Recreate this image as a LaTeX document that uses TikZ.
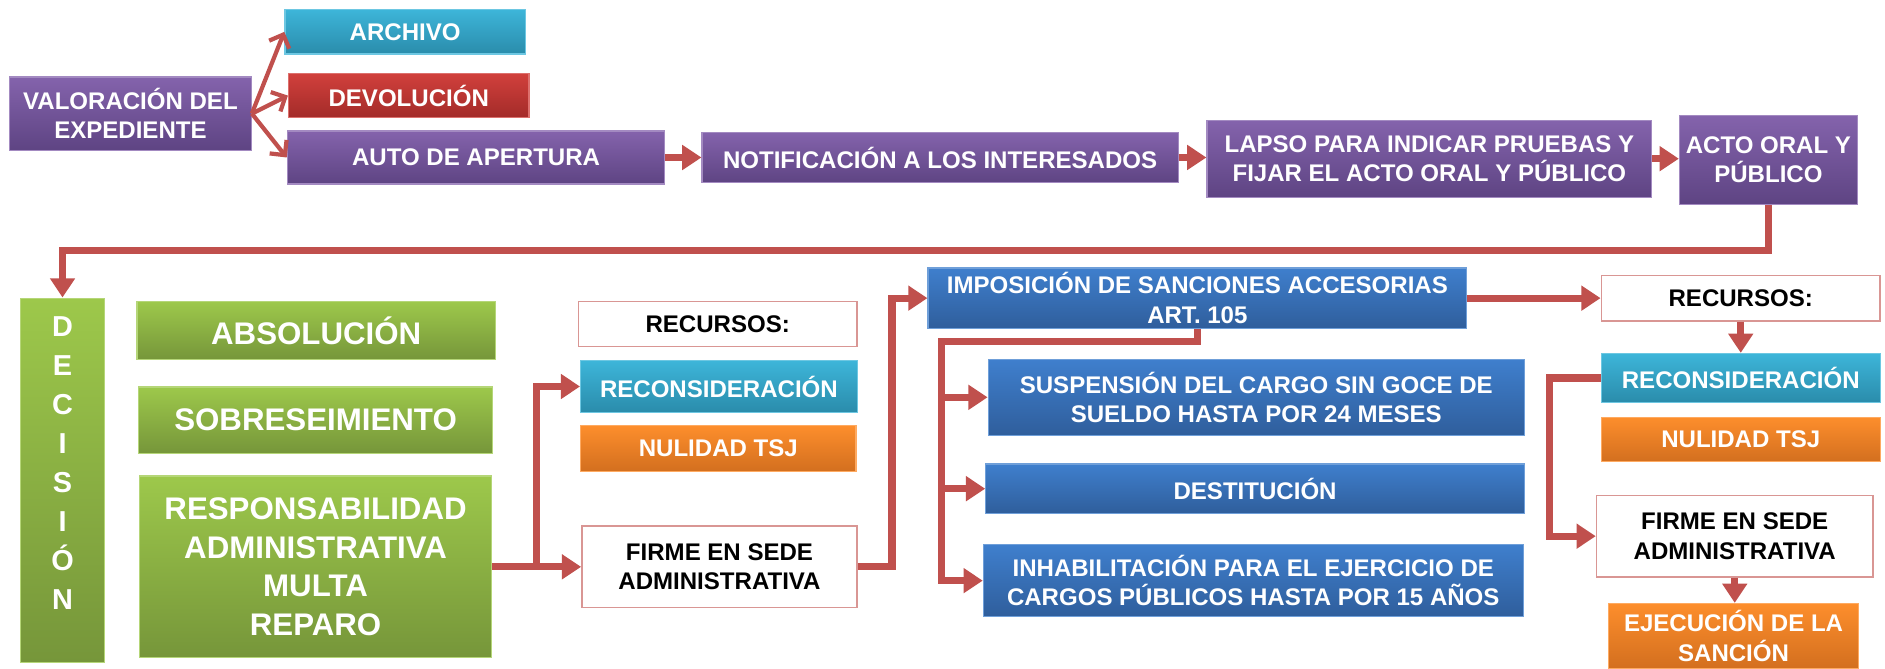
\documentclass[tikz,border=0pt]{standalone}
\usepackage{fontspec}
\setmainfont{Liberation Sans}
\usetikzlibrary{positioning,arrows.meta}
\definecolor{arrowred}{HTML}{C0504D}
\definecolor{violetTop}{HTML}{8463AC}
\definecolor{violetBot}{HTML}{5E4483}
\definecolor{tealTop}{HTML}{3DB5D9}
\definecolor{tealBot}{HTML}{2A8CAB}
\definecolor{redTop}{HTML}{D1403C}
\definecolor{redBot}{HTML}{A32B29}
\definecolor{greenTop}{HTML}{9DC84B}
\definecolor{greenBot}{HTML}{76963A}
\definecolor{blueTop}{HTML}{3F7FCD}
\definecolor{blueBot}{HTML}{2F5E9C}
\definecolor{orangeTop}{HTML}{FD8E2C}
\definecolor{orangeBot}{HTML}{D36F1F}
\definecolor{pinkline}{HTML}{D99694}

\begin{document}
\begin{tikzpicture}[x=1pt, y=1pt,
    main/.style = {inner sep=2pt, align=center, text=white, line width=1pt, font=\bfseries\fontsize{20}{24.5}\selectfont},
    sz/.style 2 args = {minimum width=#1pt, minimum height=#2pt},
    purplebox/.style = {main, top color=violetTop, bottom color=violetBot, draw=violetTop!75!white},
    tealbox/.style = {main, top color=tealTop, bottom color=tealBot, draw=tealTop!75!white},
    redbox/.style = {main, top color=redTop, bottom color=redBot, draw=redTop!75!white},
    greenbox/.style = {main, top color=greenTop, bottom color=greenBot, draw=greenTop!75!white, font=\bfseries\fontsize{26}{32}\selectfont},
    bluebox/.style = {main, top color=blueTop, bottom color=blueBot, draw=blueTop!75!white},
    orangebox/.style = {main, top color=orangeTop, bottom color=orangeBot, draw=orangeTop!75!white},
    whitebox/.style = {main, text=black, fill=white, draw=pinkline, line width=1.2pt},
    fan/.style = {draw=arrowred, line width=3.5pt, -{Straight Barb[length=9pt, width=18pt]}},
    arr/.style = {draw=arrowred, line width=6pt, -{Triangle[length=16pt, width=20pt]}}]
    \path[fill=white] (0,0) rectangle (1568,-556);
    \useasboundingbox (0,0) rectangle (1568,-556);
    \node[purplebox, sz={201}{61}] (valor) at (108.5,-94.5) {VALORACIÓN DEL\\EXPEDIENTE};
    \node[tealbox, sz={200}{37}] (archivo) at (337,-26.5) {ARCHIVO};
    \node[redbox, sz={200}{37}] (devol) at (340,-79.5) {DEVOLUCIÓN};
    \node[purplebox, sz={314}{44}] (auto) at (396,-131) {AUTO DE APERTURA};
    \node[purplebox, sz={396}{42}] (notif) at (782,-131) {NOTIFICACIÓN A LOS INTERESADOS};
    \node[purplebox, sz={370}{64}] (lapso) at (1189,-132) {LAPSO PARA INDICAR PRUEBAS Y\\FIJAR EL ACTO ORAL Y PÚBLICO};
    \node[purplebox, sz={148}{74}] (acto) at (1471,-133) {ACTO ORAL Y\\PÚBLICO};
    \node[greenbox, sz={70}{303}] (decis) at (52,-399.5) {};
    \node[main, inner sep=0pt, font=\bfseries\fontsize{24}{32.5}\selectfont, below=15pt of decis.north] (decistxt) {D\\E\\C\\I\\S\\I\\Ó\\N};
    \node[greenbox, sz={298}{48}] (absol) at (263,-275) {ABSOLUCIÓN};
    \node[greenbox, sz={295}{55}] (sobre) at (262.5,-349.5) {SOBRESEIMIENTO};
    \node[greenbox, sz={293}{151}] (resp) at (262.5,-471.5) {RESPONSABILIDAD\\ADMINISTRATIVA\\MULTA\\REPARO};
    \node[whitebox, sz={232}{37}] (recur1) at (597,-269.5) {RECURSOS:};
    \node[tealbox, sz={230}{43}] (recon1) at (598,-321.5) {RECONSIDERACIÓN};
    \node[orangebox, sz={229}{38}] (nulid1) at (597.5,-373) {NULIDAD TSJ};
    \node[whitebox, sz={229}{68}] (firme1) at (598.5,-471.5) {FIRME EN SEDE\\ADMINISTRATIVA};
    \node[bluebox, sz={448}{50}] (impos) at (996,-248) {IMPOSICIÓN DE SANCIONES ACCESORIAS\\ART. 105};
    \node[bluebox, sz={446}{63}] (susp) at (1045,-330.5) {SUSPENSIÓN DEL CARGO SIN GOCE DE\\SUELDO HASTA POR 24 MESES};
    \node[bluebox, sz={448}{41}] (dest) at (1044,-406.5) {DESTITUCIÓN};
    \node[bluebox, sz={449}{60}] (inhab) at (1042.5,-483) {INHABILITACIÓN PARA EL EJERCICIO DE\\CARGOS PÚBLICOS HASTA POR 15 AÑOS};
    \node[whitebox, sz={232}{38}] (recur2) at (1448,-248) {RECURSOS:};
    \node[tealbox, sz={232}{41}] (recon2) at (1448,-314.5) {RECONSIDERACIÓN};
    \node[orangebox, sz={232}{37}] (nulid2) at (1448,-365.5) {NULIDAD TSJ};
    \node[whitebox, sz={230}{68}] (firme2) at (1443,-446) {FIRME EN SEDE\\ADMINISTRATIVA};
    \node[orangebox, sz={208}{54}] (ejec) at (1442,-529) {EJECUCIÓN DE LA\\SANCIÓN};
    \coordinate (bend1) at (52,-208.5);
    \coordinate (fork1) at (446,-471.5);
    \coordinate (fork2) at (742,-471.5);
    \coordinate (fork3) at (783,-284);
    \coordinate (fork4) at (1289,-314.5);
    \draw[fan] (valor.east) -- (archivo.west);
    \draw[fan] (valor.east) -- (devol.west);
    \draw[fan] (valor.east) -- (auto.west);
    \draw[arr] (auto.east) -- (notif.west);
    \draw[arr] (notif.east) -- (notif.east -| lapso.west);
    \draw[arr] (lapso.east) -- (lapso.east -| acto.west);
    \draw[arr] (acto.south) |- (bend1) -- (decis.north);
    \draw[arr] (resp.east) -- (firme1.west);
    \draw[arr] (fork1) |- (recon1.west);
    \draw[arr] (firme1.east) -- (fork2) |- (impos.west);
    \draw[arr] (impos.east) -- (recur2.west);
    \draw[arr] (impos.south) |- (fork3) |- (inhab.west);
    \draw[arr] (fork3) |- (susp.west);
    \draw[arr] (fork3) |- (dest.west);
    \draw[arr] (recur2.south) -- (recon2.north);
    \draw[arr] (recon2.west) -- (fork4) |- (firme2.west);
    \draw[arr] (firme2.south) -- (firme2.south |- ejec.north);
\end{tikzpicture}
\end{document}
